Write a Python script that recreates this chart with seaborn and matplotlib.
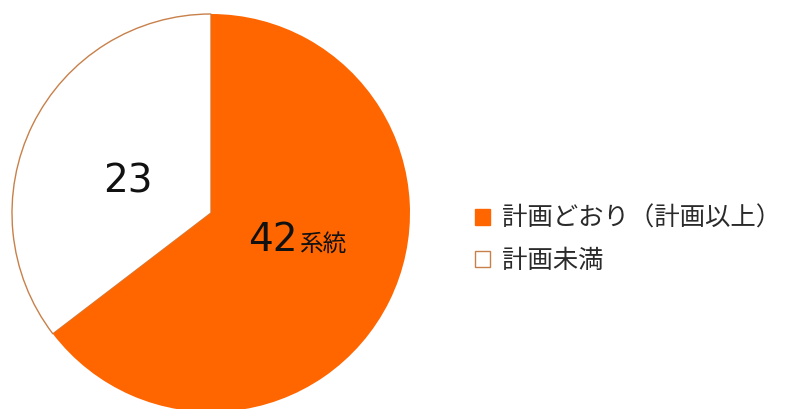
import seaborn as sns
import matplotlib.pyplot as plt
from matplotlib.patches import Patch

sns.set_theme(style="white")
plt.rcParams['font.family'] = ['Noto Sans CJK JP', 'DejaVu Sans']

# data
labels = ["計画どおり（計画以上）", "計画未満"]
values = [42, 23]
colors = ["#FF6600", "#FFFFFF"]
edge = "#C8804A"

fig = plt.figure(figsize=(7.87, 4.09), dpi=100)
W, H = 787, 409
cx, cy, r = 211, 213, 199
ax = fig.add_axes([(cx - r) / W, (H - cy - r) / H, 2 * r / W, 2 * r / H])

wedges, _ = ax.pie(values, colors=colors, startangle=90, counterclock=False,
                   radius=1, wedgeprops=dict(linewidth=0))
wedges[1].set_edgecolor(edge)
wedges[1].set_linewidth(1.0)
wedges[0].set_zorder(5)
for w in wedges:
    w.set_clip_on(False)
ax.set_xlim(-1, 1)
ax.set_ylim(-1, 1)
ax.set_aspect("equal")
ax.axis("off")

# value labels
ax.text((128 - cx) / r, (cy - 182) / r, str(values[1]), ha="center", va="center",
        fontsize=28, family="DejaVu Sans", color="#111111", zorder=10)
ax.text((298 - cx) / r, (cy - 240) / r, str(values[0]), ha="right", va="center",
        fontsize=28, family="DejaVu Sans", color="#111111", zorder=10)
ax.text((299 - cx) / r, (cy - 244) / r, "系統", ha="left", va="center",
        fontsize=17, color="#111111", zorder=10)

handles = [Patch(facecolor=colors[0], edgecolor=colors[0]),
           Patch(facecolor=colors[1], edgecolor=edge, linewidth=1)]
fig.legend(handles, labels, loc="center left", bbox_to_anchor=(475 / W, 1 - 240 / H),
           frameon=False, fontsize=18.3, handlelength=0.6, handleheight=0.6,
           handletextpad=0.45, labelspacing=0.66, labelcolor="#2a2a2a",
           borderpad=0, borderaxespad=0)

fig.savefig("out.png", dpi=100)
